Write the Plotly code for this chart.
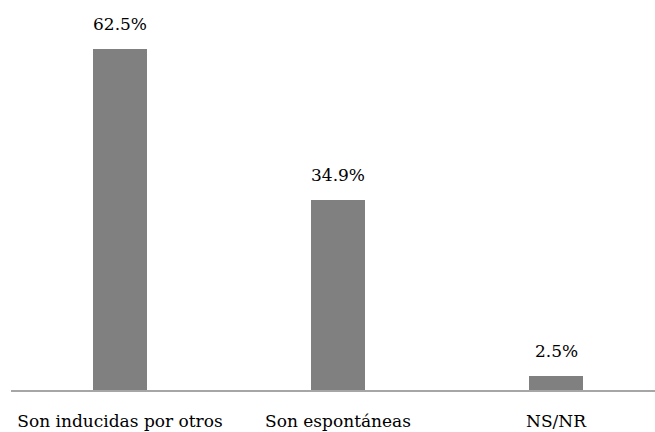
import plotly.graph_objects as go

categories = ["Son inducidas por otros", "Son espontáneas", "NS/NR"]
values = [62.5, 34.9, 2.5]
value_labels = ["62.5%", "34.9%", "2.5%"]

FONT = "DejaVu Serif"

fig = go.Figure(
    go.Bar(
        x=categories,
        y=values,
        width=0.248,
        marker=dict(color="#808080", line=dict(width=0)),
        hoverinfo="skip",
    )
)

for cat, val, lab in zip(categories, values, value_labels):
    fig.add_annotation(
        x=cat, y=val, text=lab, showarrow=False,
        yanchor="bottom", yshift=13,
        font=dict(family=FONT, size=17, color="#000000"),
    )

fig.update_layout(
    width=655, height=432,
    margin=dict(l=11, r=0, t=0, b=42),
    paper_bgcolor="white", plot_bgcolor="white",
    showlegend=False,
    font=dict(family=FONT, size=17, color="#000000"),
    bargap=0,
)
fig.update_xaxes(
    type="category",
    range=[-0.5, 2.454],
    showline=True, linecolor="#a6a6a6", linewidth=2,
    ticks="outside", ticklen=15, tickcolor="rgba(0,0,0,0)",
    showgrid=False, zeroline=False,
    tickfont=dict(family=FONT, size=17, color="#000000"),
)
fig.update_yaxes(
    range=[0, 71.5],
    visible=False, showgrid=False, zeroline=False,
)

fig.write_html("out.html")
